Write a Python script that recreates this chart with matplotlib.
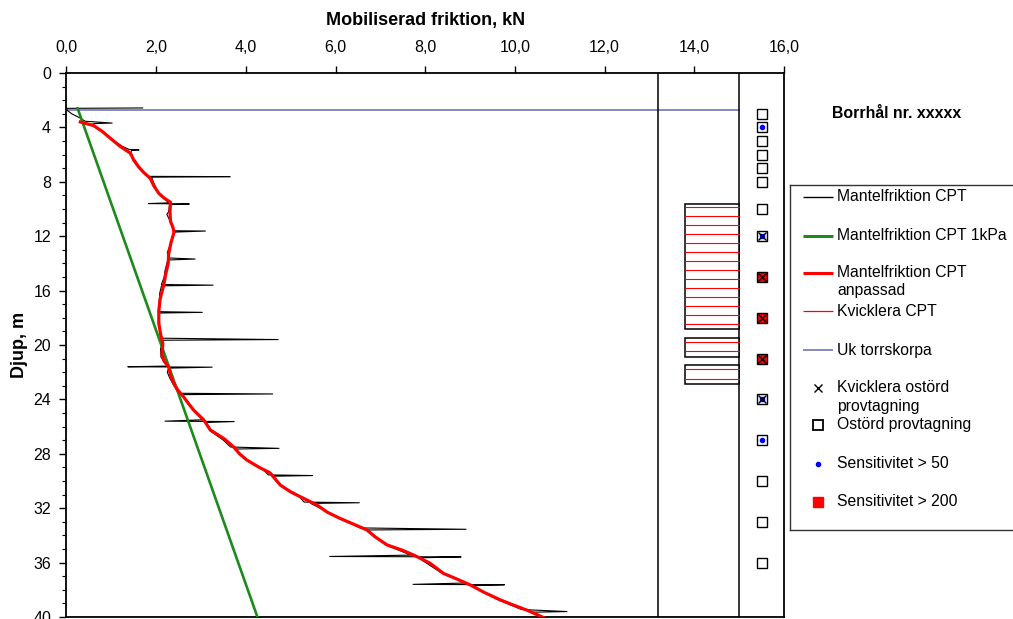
import numpy as np
import matplotlib
matplotlib.use('Agg')
import matplotlib.pyplot as plt
from matplotlib.patches import Rectangle
from matplotlib.ticker import MultipleLocator, FuncFormatter

plt.rcParams['font.family'] = ['Liberation Sans', 'DejaVu Sans']

# raw sleeve friction from CPT (kN) incl. rod-change spikes
cpt_depth = [2.57, 2.60, 2.75, 3.0, 3.3, 3.55, 3.68, 3.72, 3.8, 4.2, 4.8, 5.4, 5.62, 5.65, 5.7,
             6.0, 6.5, 7.0, 7.5, 7.6, 7.62, 7.66, 8.1, 8.8, 9.55, 9.6, 9.63, 9.68, 10.2, 10.4,
             10.8, 11.5, 11.6, 11.62, 11.7, 12.5, 13.2, 13.6, 13.68, 13.75, 14.5, 15.0, 15.55,
             15.6, 15.65, 16.2, 17.0, 17.55, 17.6, 17.65, 18.5, 19.5, 19.6, 19.65, 20.3, 20.9,
             21.55, 21.6, 21.63, 21.7, 22.0, 22.4, 23.0, 23.55, 23.6, 23.65, 24.2, 24.8, 25.5,
             25.6, 25.63, 25.7, 26.3, 27.0, 27.5, 27.6, 27.65, 28.4, 29.2, 29.55, 29.6, 29.65,
             30.3, 31.0, 31.55, 31.6, 31.65, 32.7, 33.45, 33.55, 33.6, 34.7, 35.45, 35.55, 35.58,
             35.65, 36.8, 37.5, 37.6, 37.63, 37.7, 38.7, 39.45, 39.6, 39.65, 40.0]
cpt_fs = [1.70, 0.00, 0.02, 0.12, 0.30, 0.42, 1.02, 0.62, 0.55, 0.78, 0.98, 1.25, 1.40, 1.62, 1.45,
          1.42, 1.55, 1.62, 1.80, 1.83, 3.65, 1.90, 1.95, 2.05, 2.28, 1.83, 2.74, 2.30, 2.28, 2.24,
          2.30, 2.38, 2.42, 3.10, 2.40, 2.33, 2.25, 2.27, 2.87, 2.26, 2.20, 2.18, 2.12,
          3.27, 2.12, 2.08, 2.07, 2.05, 3.03, 2.07, 2.07, 2.10, 4.72, 2.15, 2.10, 2.11,
          2.25, 1.37, 3.25, 2.28, 2.25, 2.30, 2.40, 2.50, 4.60, 2.55, 2.72, 2.84, 3.03,
          2.20, 3.74, 3.10, 3.20, 3.50, 3.66, 4.74, 3.75, 4.00, 4.40, 4.50, 5.49, 4.58,
          4.76, 5.15, 5.30, 6.53, 5.45, 6.07, 6.55, 8.91, 6.72, 7.12, 7.68, 5.87, 8.80,
          7.85, 8.38, 8.90, 7.73, 9.77, 9.05, 9.60, 10.15, 11.16, 10.35, 10.60]

# adjusted (smoothed) profile
adj_depth = [3.6, 3.87, 4.3, 4.8, 5.4, 5.9, 6.4, 6.9, 7.3, 7.75, 8.3, 8.85, 9.2, 9.5, 10.2, 10.9,
             11.3, 11.7, 12.5, 13.3, 14.0, 14.7, 15.6, 16.6, 17.5, 18.4, 19.2, 19.9, 20.7, 21.2,
             21.6, 22.2, 22.8, 23.3, 23.8, 24.3, 24.8, 25.5, 26.25, 26.9, 27.5, 28.0, 28.45, 29.0,
             29.4, 30.3, 30.8, 31.15, 31.75, 32.3, 32.75, 33.2, 33.6, 34.1, 34.7, 35.1, 35.5,
             36.05, 36.8, 37.2, 37.65, 38.2, 38.75, 39.1, 39.5, 40.1]
adj_fs = [0.31, 0.61, 0.80, 0.98, 1.20, 1.43, 1.50, 1.61, 1.72, 1.87, 1.95, 2.06, 2.18, 2.32, 2.31, 2.32,
          2.37, 2.40, 2.33, 2.28, 2.27, 2.22, 2.17, 2.09, 2.06, 2.06, 2.10, 2.15, 2.13, 2.18,
          2.28, 2.32, 2.39, 2.48, 2.61, 2.72, 2.84, 3.06, 3.21, 3.52, 3.73, 3.86, 4.02, 4.30,
          4.54, 4.77, 5.00, 5.21, 5.58, 5.82, 6.10, 6.42, 6.70, 6.88, 7.15, 7.50, 7.78,
          8.11, 8.41, 8.70, 9.01, 9.32, 9.68, 9.95, 10.27, 10.68]

# 1 kPa reference line
ref_depth = [2.6, 40.1]
ref_fs = [0.25, 4.27]

dry_crust = 2.7

# quick clay intervals from CPT
qc_top = [9.6, 19.5, 21.5]
qc_bottom = [18.85, 20.9, 22.9]
qc_lines = [9.83, 10.5, 11.16, 11.83, 12.49, 13.16, 13.82, 14.49, 15.15, 15.82, 16.48,
            17.15, 17.81, 18.48, 19.81, 20.47, 21.8, 22.47]

# samples
sample_depth = [3, 4, 5, 6, 7, 8, 10, 12, 15, 18, 21, 24, 27, 30, 33, 36]
sample_qc = [0, 0, 0, 0, 0, 0, 0, 1, 1, 1, 1, 1, 0, 0, 0, 0]
sample_st50 = [0, 1, 0, 0, 0, 0, 0, 1, 0, 0, 0, 1, 1, 0, 0, 0]
sample_st200 = [0, 0, 0, 0, 0, 0, 0, 0, 1, 1, 1, 0, 0, 0, 0, 0]

col_green = '#1c8a1c'
col_blue = '#6a6aa8'

fig = plt.figure(figsize=(10.13, 6.19), dpi=100)
W, H = 1013.0, 619.0
ax = fig.add_axes([66.4/W, 1-617/H, (784-66.4)/W, (617-73)/H])

ax.plot(cpt_fs, cpt_depth, color='black', lw=0.8, zorder=3)
ax.plot(ref_fs, ref_depth, color=col_green, lw=1.9, zorder=4)
ax.plot(adj_fs, adj_depth, color='red', lw=2.3, zorder=5)
ax.plot([0, 15.0], [dry_crust, dry_crust], color=col_blue, lw=1.1, zorder=2)

# column separators
ax.axvline(13.2, color='black', lw=1.1)
ax.axvline(15.0, color='black', lw=1.1)

for t, b in zip(qc_top, qc_bottom):
    ax.add_patch(Rectangle((13.8, t), 1.2, b - t, facecolor='white', edgecolor='black', lw=1.1, zorder=3))
for d in qc_lines:
    ax.plot([13.8, 15.0], [d, d], color='red', lw=0.8, zorder=4)

xs = 15.5
for d, q, s50, s200 in zip(sample_depth, sample_qc, sample_st50, sample_st200):
    face = 'red' if s200 else 'white'
    ax.plot(xs, d, marker='s', ms=6.5, mfc=face, mec='black', mew=1.0, zorder=6)
    if q and s50:
        ax.plot(xs, d, marker='s', ms=3.5, mfc='blue', mec='blue', zorder=7)
    elif s50:
        ax.plot(xs, d, marker='o', ms=3.0, mfc='blue', mec='blue', zorder=7)
    if q:
        ax.plot(xs, d, marker='x', ms=5.5, color='black', mew=1.0, zorder=8)

ax.set_xlim(0, 16)
ax.set_ylim(40, 0)
ax.xaxis.tick_top()
ax.xaxis.set_label_position('top')
ax.xaxis.set_major_locator(MultipleLocator(2))
ax.xaxis.set_major_formatter(FuncFormatter(lambda v, p: f'{v:.1f}'.replace('.', ',')))
ax.yaxis.set_major_locator(MultipleLocator(4))
ax.yaxis.set_minor_locator(MultipleLocator(1))
ax.tick_params(axis='x', which='major', direction='out', length=5, width=1, labelsize=11.5, pad=8)
ax.tick_params(axis='y', which='major', direction='out', length=5, width=1, labelsize=11.5, pad=6)
ax.tick_params(axis='y', which='minor', direction='out', length=3, width=0.8)
for sp in ax.spines.values():
    sp.set_linewidth(1.3)

ax.set_xlabel('Mobiliserad friktion, kN', fontsize=13, fontweight='bold', labelpad=11)
ax.set_ylabel('Djup, m', fontsize=13, fontweight='bold', labelpad=4)

fig.text(832/W, 1-113/H, 'Borrhål nr. xxxxx', fontsize=11.4, fontweight='bold', va='center', ha='left')

# legend panel
lg = fig.add_axes([790/W, 1-530/H, (1040-790)/W, (530-185)/H])
lg.set_xlim(0, 250)
lg.set_ylim(345, 0)
lg.set_xticks([])
lg.set_yticks([])
for sp in lg.spines.values():
    sp.set_linewidth(1.0)
    sp.set_color('#333333')

entries = [
    (12, 'line', dict(color='black', lw=1.0), 'Mantelfriktion CPT'),
    (51, 'line', dict(color=col_green, lw=2.2), 'Mantelfriktion CPT 1kPa'),
    (88, 'line', dict(color='red', lw=2.2), 'Mantelfriktion CPT\nanpassad'),
    (126, 'line', dict(color='red', lw=0.9), 'Kvicklera CPT'),
    (165, 'line', dict(color=col_blue, lw=1.1), 'Uk torrskorpa'),
    (203, 'mark', dict(marker='x', ms=6, color='black', mew=1.0), 'Kvicklera ostörd\nprovtagning'),
    (240, 'mark', dict(marker='s', ms=7, mfc='white', mec='black', mew=1.3), 'Ostörd provtagning'),
    (279, 'mark', dict(marker='o', ms=3, mfc='blue', mec='blue'), 'Sensitivitet > 50'),
    (317, 'mark', dict(marker='s', ms=7, mfc='red', mec='red'), 'Sensitivitet > 200'),
]
for y, kind, style, label in entries:
    if kind == 'line':
        lg.plot([13, 43], [y, y], solid_capstyle='butt', **style)
    else:
        lg.plot(28, y, **style)
    lg.text(47, y - 7.5, label, fontsize=11.3, va='top', ha='left', linespacing=1.25)

fig.savefig('out.png', dpi=100)
